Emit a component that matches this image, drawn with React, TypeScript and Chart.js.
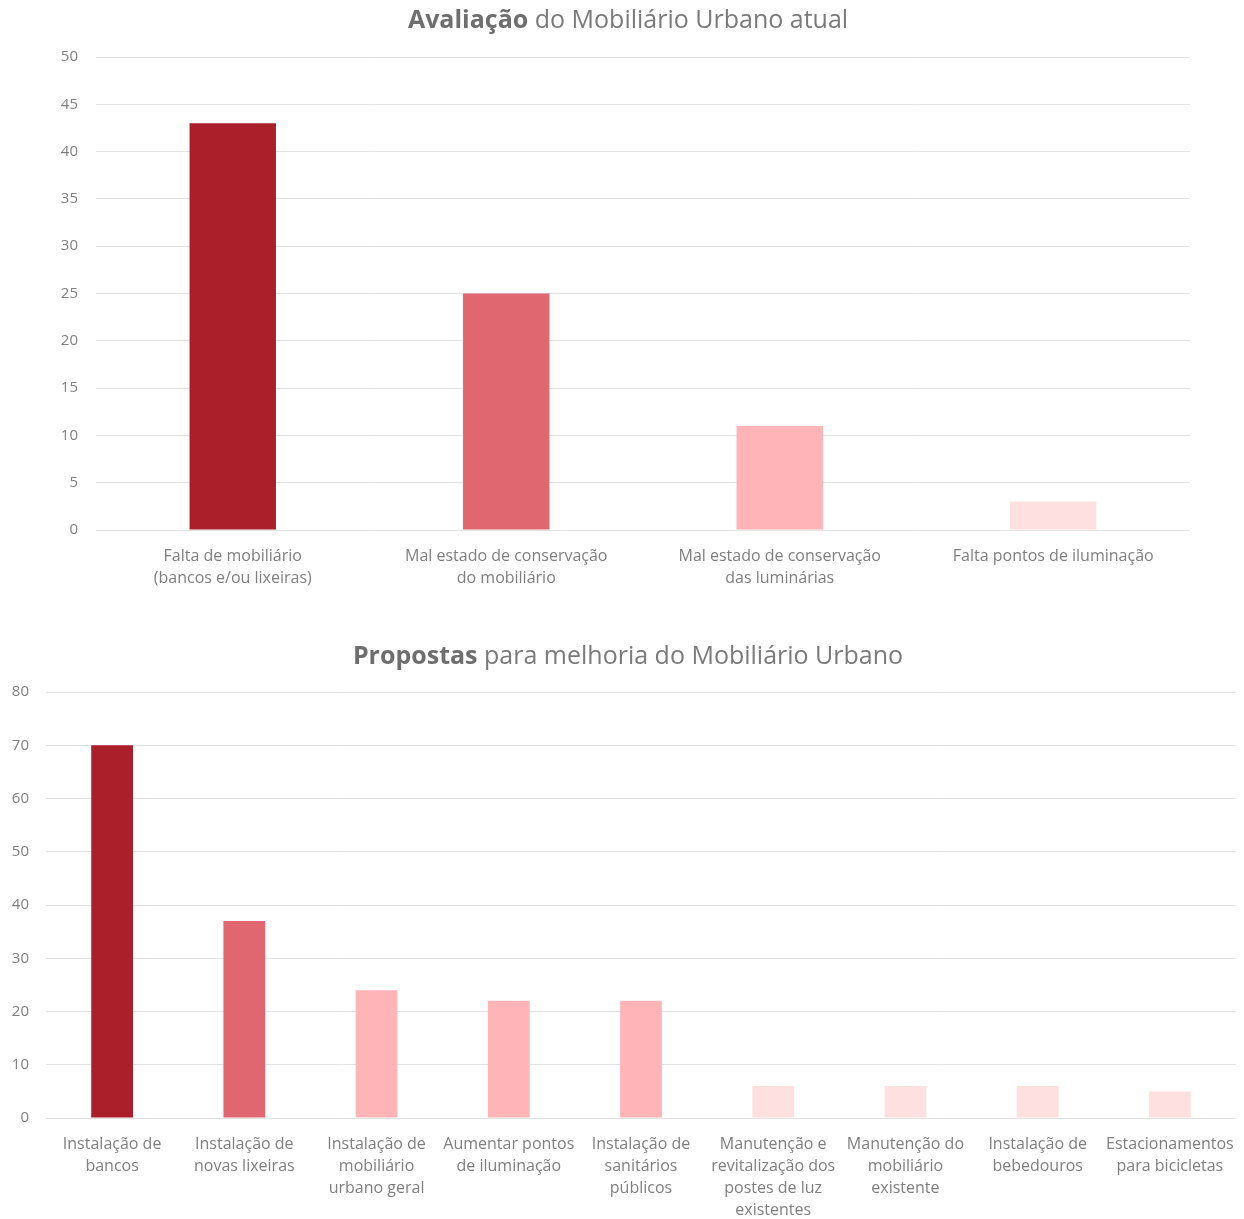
import React, { useEffect, useRef } from "react";
import { Chart, registerables } from "chart.js";

Chart.register(...registerables);

// ---- Data: chart 1 ----
const evalTitleBold = "Avaliação";
const evalTitleRest = " do Mobiliário Urbano atual";
const evalCategories: string[][] = [
  ["Falta de mobiliário", "(bancos e/ou lixeiras)"],
  ["Mal estado de conservação", "do mobiliário"],
  ["Mal estado de conservação", "das luminárias"],
  ["Falta pontos de iluminação"],
];
const evalValues = [43, 25, 11, 3];
const evalColors = ["#AB1F2B", "#E0666F", "#FFB5B8", "#FFE0E1"];
const evalMax = 50;
const evalStep = 5;

// ---- Data: chart 2 ----
const propTitleBold = "Propostas";
const propTitleRest = " para melhoria do Mobiliário Urbano";
const propCategories: string[][] = [
  ["Instalação de", "bancos"],
  ["Instalação de", "novas lixeiras"],
  ["Instalação de", "mobiliário", "urbano geral"],
  ["Aumentar pontos", "de iluminação"],
  ["Instalação de", "sanitários", "públicos"],
  ["Manutenção e", "revitalização dos", "postes de luz", "existentes"],
  ["Manutenção do", "mobiliário", "existente"],
  ["Instalação de", "bebedouros"],
  ["Estacionamentos", "para bicicletas"],
];
const propValues = [70, 37, 24, 22, 22, 6, 6, 6, 5];
const propColors = [
  "#AB1F2B",
  "#E0666F",
  "#FFB5B8",
  "#FFB5B8",
  "#FFB5B8",
  "#FFE0E1",
  "#FFE0E1",
  "#FFE0E1",
  "#FFE0E1",
];
const propMax = 80;
const propStep = 10;

const FONT = "'Open Sans', 'Noto Sans', sans-serif";

type Props = {
  width: number;
  height: number;
  top: number;
  titleBold: string;
  titleRest: string;
  titleY: number;
  categories: string[][];
  values: number[];
  colors: string[];
  max: number;
  step: number;
  padTop: number;
  padRight: number;
  yAxisWidth: number;
  xAxisHeight: number;
  yTickPad: number;
};

function BarChart(p: Props) {
  const ref = useRef<HTMLCanvasElement | null>(null);
  useEffect(() => {
    if (!ref.current) return;
    const titlePlugin = {
      id: "mixedTitle",
      afterDraw(chart: any) {
        const ctx = chart.ctx;
        ctx.save();
        const size = 25;
        ctx.textBaseline = "middle";
        ctx.font = `bold ${size}px ${FONT}`;
        const wb = ctx.measureText(p.titleBold).width;
        ctx.font = `${size}px ${FONT}`;
        const wr = ctx.measureText(p.titleRest).width;
        const cx = chart.width / 2 + 6;
        const x0 = cx - (wb + wr) / 2;
        ctx.fillStyle = "#6E6E6E";
        ctx.textAlign = "left";
        ctx.font = `bold ${size}px ${FONT}`;
        ctx.fillText(p.titleBold, x0, p.titleY);
        ctx.fillStyle = "#7A7A7A";
        ctx.font = `${size}px ${FONT}`;
        ctx.fillText(p.titleRest, x0 + wb, p.titleY);
        ctx.restore();
      },
    };
    const chart = new Chart(ref.current, {
      type: "bar",
      data: {
        labels: p.categories,
        datasets: [
          {
            data: p.values,
            backgroundColor: p.colors,
            borderWidth: 0,
            barPercentage: 0.316,
            categoryPercentage: 1,
          },
        ],
      },
      options: {
        responsive: false,
        animation: false,
        devicePixelRatio: 1,
        layout: { padding: { top: p.padTop, right: p.padRight, left: 0, bottom: 0 } },
        plugins: {
          legend: { display: false },
          title: { display: false },
          tooltip: { enabled: false },
        },
        scales: {
          x: {
            grid: { display: false, drawTicks: false },
            border: { display: false },
            ticks: {
              color: "#7F7F7F",
              font: { family: FONT, size: 16, lineHeight: "22px" },
              padding: 15,
              maxRotation: 0,
              autoSkip: false,
            },
            afterFit: (scale: any) => {
              scale.height = p.xAxisHeight;
              scale.paddingLeft = 0;
              scale.paddingRight = 0;
            },
          },
          y: {
            min: 0,
            max: p.max,
            grid: { color: "#E3E3E3", lineWidth: 1, drawTicks: false },
            border: { display: false },
            ticks: {
              stepSize: p.step,
              color: "#808080",
              font: { family: FONT, size: 15 },
              padding: p.yTickPad,
            },
            afterFit: (scale: any) => {
              scale.width = p.yAxisWidth;
            },
          },
        },
      },
      plugins: [titlePlugin],
    } as any);
    return () => chart.destroy();
  }, []);
  return (
    <canvas
      ref={ref}
      width={p.width}
      height={p.height}
      style={{ position: "absolute", left: 0, top: p.top, width: p.width, height: p.height }}
    />
  );
}

export default function App() {
  return (
    <div
      style={{
        position: "absolute",
        left: 0,
        top: 0,
        width: 1244,
        height: 1219,
        background: "#FFFFFF",
        overflow: "hidden",
      }}
    >
      <BarChart
        width={1244}
        height={600}
        top={0}
        titleBold={evalTitleBold}
        titleRest={evalTitleRest}
        titleY={21}
        categories={evalCategories}
        values={evalValues}
        colors={evalColors}
        max={evalMax}
        step={evalStep}
        padTop={57}
        padRight={54}
        yAxisWidth={96}
        xAxisHeight={70}
        yTickPad={18}
      />
      <BarChart
        width={1244}
        height={599}
        top={620}
        titleBold={propTitleBold}
        titleRest={propTitleRest}
        titleY={37}
        categories={propCategories}
        values={propValues}
        colors={propColors}
        max={propMax}
        step={propStep}
        padTop={72}
        padRight={8}
        yAxisWidth={46}
        xAxisHeight={101}
        yTickPad={17}
      />
    </div>
  );
}
